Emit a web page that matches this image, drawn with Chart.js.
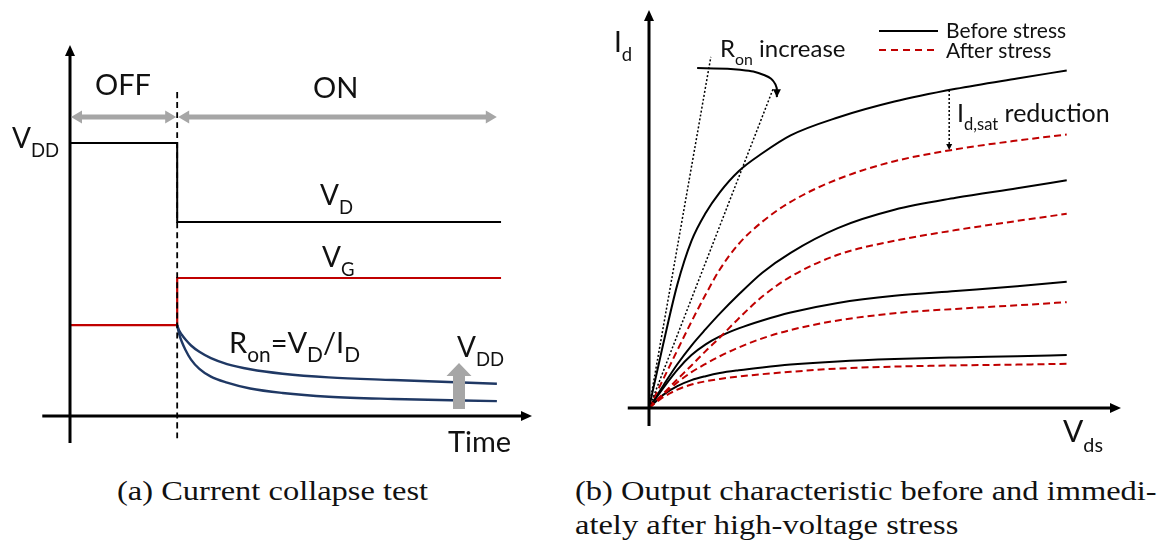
<!DOCTYPE html>
<html>
<head>
<meta charset="utf-8">
<script src="https://cdn.jsdelivr.net/npm/chart.js@4/dist/chart.umd.min.js"></script>
<style>
  html,body{margin:0;padding:0;background:#fff;}
  #wrap{position:relative;width:1167px;height:544px;overflow:hidden;}
  canvas{position:absolute;top:0;}
  .cap{position:absolute;font-family:"Liberation Serif",serif;font-size:28px;line-height:34px;color:#111;
       white-space:nowrap;transform:scaleX(1.16);transform-origin:left top;}
</style>
</head>
<body>
<div id="wrap">
  <canvas id="left" width="560" height="460" style="left:0"></canvas>
  <canvas id="right" width="587" height="460" style="left:580px"></canvas>
  <div class="cap" style="left:117px;top:474px">(a) Current collapse test</div>
  <div class="cap" style="left:575px;top:474px">(b) Output characteristic before and immedi-<br>ately after high-voltage stress</div>
</div>
<script>
// ---- (a) current collapse test ----
const timeSteps = [0, 2.32, 2.32, 9.33];
const vdLevels = [7.36, 7.36, 5.23, 5.23];
const vgLevels = [2.45, 2.45, 3.72, 3.72];
const switchTime = 2.32;
const switchSpan = [-0.6, 8.79];
const ronTimes = [2.32, 2.36, 2.42, 2.5, 2.62, 2.8, 3.05, 3.4, 3.9, 4.6, 5.6, 7.0, 9.24];
const ronUpper = [2.45, 2.31, 2.19, 2.06, 1.90, 1.73, 1.56, 1.40, 1.26, 1.14, 1.04, 0.97, 0.87];
const ronLower = [2.45, 2.22, 2.0, 1.78, 1.52, 1.27, 1.06, 0.9, 0.74, 0.62, 0.52, 0.46, 0.40];
const phaseLevel = 8.06;
const phaseEnds = [0, 2.32, 9.26];
const vddArrowTime = 8.42;
const vddArrowSpan = [0.19, 1.43];

// ---- (b) output characteristic ----
const vdsGrid = [0, 0.3, 0.6, 0.9, 1.2, 1.5, 1.9, 2.4, 3.0, 4.0, 5.2, 6.5, 7.8, 8.85];
const before1 = [0, 1.6, 3.1, 4.2, 4.9, 5.42, 5.95, 6.4, 6.85, 7.3, 7.7, 8.02, 8.28, 8.48];
const before2 = [0, 0.56, 1.1, 1.57, 1.98, 2.37, 2.85, 3.4, 3.9, 4.52, 4.98, 5.28, 5.52, 5.72];
const before3 = [0, 0.5, 0.96, 1.33, 1.6, 1.8, 2.0, 2.2, 2.4, 2.64, 2.82, 2.94, 3.06, 3.17];
const before4 = [0, 0.33, 0.55, 0.7, 0.8, 0.88, 0.95, 1.02, 1.09, 1.17, 1.23, 1.27, 1.3, 1.33];
const after1 = [0, 0.72, 1.45, 2.17, 2.85, 3.48, 4.12, 4.68, 5.18, 5.75, 6.2, 6.5, 6.72, 6.87];
const after2 = [0, 0.36, 0.72, 1.07, 1.43, 1.77, 2.25, 2.8, 3.3, 3.85, 4.2, 4.47, 4.7, 4.88];
const after3 = [0, 0.33, 0.64, 0.9, 1.11, 1.3, 1.52, 1.75, 1.96, 2.2, 2.38, 2.49, 2.58, 2.66];
const after4 = [0, 0.27, 0.46, 0.59, 0.67, 0.73, 0.79, 0.85, 0.91, 0.99, 1.04, 1.07, 1.09, 1.11];
const ronSlopeA = [[0, 0], [1.31, 8.82]];
const ronSlopeB = [[0, 0], [2.63, 8.02]];
const ronArrowX = [1.02, 1.93, 2.45, 2.68, 2.71];
const ronArrowY = [8.54, 8.5, 8.36, 8.13, 7.81];
const idsatX = 6.36;
const idsatSpan = [7.99, 6.48];

const RED = '#c00000', NAVY = '#1f3864', GRAY = '#a6a6a6';

function pts(xs, ys){ return xs.map((x,i)=>({x:x, y:ys[i]})); }

function ds(data, color, extra){
  return Object.assign({data:data, borderColor:color, borderWidth:2, pointRadius:0,
    fill:false, clip:false, cubicInterpolationMode:'monotone'}, extra||{});
}

function head(ctx, x, y, ang, len, half, color){
  ctx.save();
  ctx.translate(x, y); ctx.rotate(ang);
  ctx.fillStyle = color;
  ctx.beginPath();
  ctx.moveTo(0, 0); ctx.lineTo(-len, -half); ctx.lineTo(-len, half); ctx.closePath();
  ctx.fill();
  ctx.restore();
}

function seg(ctx, x1, y1, x2, y2){
  ctx.beginPath(); ctx.moveTo(x1, y1); ctx.lineTo(x2, y2); ctx.stroke();
}

// text with subscripts: parts = [[text, isSub], ...]
function subText(ctx, x, y, parts, size, subScale){
  let cx = x;
  const k = subScale || 0.66;
  ctx.fillStyle = '#111';
  ctx.textBaseline = 'alphabetic'; ctx.textAlign = 'left';
  parts.forEach(p=>{
    const s = p[1] ? size*k : size;
    ctx.font = s + 'px Lato';
    ctx.fillText(p[0], cx, p[1] ? y + size*0.32 : y);
    cx += ctx.measureText(p[0]).width;
  });
}

const base = {
  type:'line',
  options:{
    responsive:false, animation:false, events:[],
    plugins:{legend:{display:false}, tooltip:{enabled:false}},
    scales:{
      x:{type:'linear', min:0, max:10, display:false},
      y:{type:'linear', min:0, max:10, display:false}
    }
  }
};

const leftDecor = {
  id:'leftDecor',
  afterDatasetsDraw(chart){
    const {ctx, scales:{x, y}} = chart;
    ctx.save();
    // axes
    ctx.strokeStyle = '#000'; ctx.lineWidth = 3;
    seg(ctx, x.getPixelForValue(0), y.getPixelForValue(-0.73), x.getPixelForValue(0), y.getPixelForValue(10)+8);
    head(ctx, x.getPixelForValue(0), y.getPixelForValue(10), -Math.PI/2, 11, 5, '#000');
    seg(ctx, x.getPixelForValue(-0.6), y.getPixelForValue(0), x.getPixelForValue(10)-8, y.getPixelForValue(0));
    head(ctx, x.getPixelForValue(10), y.getPixelForValue(0), 0, 11, 5, '#000');

    // OFF / ON phase arrows
    ctx.strokeStyle = GRAY; ctx.lineWidth = 5;
    const py = y.getPixelForValue(phaseLevel);
    for (let i=0;i<phaseEnds.length-1;i++){
      const a = x.getPixelForValue(phaseEnds[i]) + 1, b = x.getPixelForValue(phaseEnds[i+1]) - 1;
      seg(ctx, a+9, py, b-9, py);
      head(ctx, a, py, Math.PI, 11, 6.5, GRAY);
      head(ctx, b, py, 0, 11, 6.5, GRAY);
    }

    // VDD up arrow
    const ax = x.getPixelForValue(vddArrowTime);
    const y0 = y.getPixelForValue(vddArrowSpan[0]), y1 = y.getPixelForValue(vddArrowSpan[1]);
    ctx.fillStyle = GRAY;
    ctx.beginPath();
    ctx.moveTo(ax-6, y0); ctx.lineTo(ax-6, y1+13); ctx.lineTo(ax-12.5, y1+13);
    ctx.lineTo(ax, y1); ctx.lineTo(ax+12.5, y1+13); ctx.lineTo(ax+6, y1+13); ctx.lineTo(ax+6, y0);
    ctx.closePath(); ctx.fill();

    // labels
    subText(ctx, 95, 95, [['OFF',0]], 29);
    subText(ctx, 313, 98, [['ON',0]], 29);
    subText(ctx, 12, 148, [['V',0],['DD',1]], 28);
    subText(ctx, 320, 205, [['V',0],['D',1]], 28);
    subText(ctx, 322, 267, [['V',0],['G',1]], 28);
    subText(ctx, 229, 353, [['R',0],['on',1],['=V',0],['D',1],['/I',0],['D',1]], 29, 0.72);
    subText(ctx, 457, 357, [['V',0],['DD',1]], 28);
    subText(ctx, 448, 452, [['Time',0]], 29);
    ctx.restore();
  }
};

const leftCfg = JSON.parse(JSON.stringify(base));
leftCfg.options.layout = {padding:{left:70, right:28, top:45, bottom:44}};
leftCfg.data = {datasets:[
  ds([{x:switchTime, y:switchSpan[0]}, {x:switchTime, y:switchSpan[1]}], '#000', {borderDash:[6,4], borderWidth:1.8}),
  ds(pts(ronTimes, ronUpper), NAVY, {borderWidth:2.4}),
  ds(pts(ronTimes, ronLower), NAVY, {borderWidth:2.4}),
  ds(pts(timeSteps, vdLevels), '#000', {cubicInterpolationMode:'default', tension:0}),
  ds(pts(timeSteps, vgLevels), RED, {cubicInterpolationMode:'default', tension:0, borderWidth:2.2})
]};
leftCfg.plugins = [leftDecor];
new Chart(document.getElementById('left'), leftCfg);

const rightDecor = {
  id:'rightDecor',
  afterDatasetsDraw(chart){
    const {ctx, scales:{x, y}} = chart;
    const X = 580;
    ctx.save();
    ctx.strokeStyle = '#000'; ctx.lineWidth = 3;
    seg(ctx, x.getPixelForValue(0), y.getPixelForValue(-0.45), x.getPixelForValue(0), y.getPixelForValue(10)+8);
    head(ctx, x.getPixelForValue(0), y.getPixelForValue(10), -Math.PI/2, 11, 5, '#000');
    seg(ctx, x.getPixelForValue(-0.45), y.getPixelForValue(0), x.getPixelForValue(10)-8, y.getPixelForValue(0));
    head(ctx, x.getPixelForValue(10), y.getPixelForValue(0), 0, 11, 5, '#000');

    // curved arrow head and Id,sat arrow head
    const n = ronArrowX.length-1;
    head(ctx, x.getPixelForValue(ronArrowX[n]), y.getPixelForValue(ronArrowY[n]), Math.PI/2, 8, 4, '#000');
    head(ctx, x.getPixelForValue(idsatX), y.getPixelForValue(idsatSpan[1]), Math.PI/2, 6, 3, '#000');

    // legend
    ctx.lineWidth = 2;
    ctx.strokeStyle = '#000';
    seg(ctx, 879-X, 31, 938-X, 31);
    ctx.strokeStyle = RED; ctx.setLineDash([7,5]);
    seg(ctx, 879-X, 50, 938-X, 50);
    ctx.setLineDash([]);
    subText(ctx, 946-X, 38, [['Before stress',0]], 21);
    subText(ctx, 946-X, 58, [['After stress',0]], 21);

    subText(ctx, 614-X, 52, [['I',0],['d',1]], 28);
    subText(ctx, 720-X, 57, [['R',0],['on',1],[' increase',0]], 24);
    subText(ctx, 957-X, 122, [['I',0],['d,sat',1],[' reduction',0]], 25);
    subText(ctx, 1063-X, 442, [['V',0],['ds',1]], 30);
    ctx.restore();
  }
};

const dashed = {borderDash:[7,4]};
const dotted = {borderDash:[2,2], borderWidth:1.5, cubicInterpolationMode:'default', tension:0};
const rightCfg = JSON.parse(JSON.stringify(base));
rightCfg.options.layout = {padding:{left:69, right:46, top:10, bottom:52}};
rightCfg.data = {datasets:[
  ds(ronSlopeA.map(p=>({x:p[0], y:p[1]})), '#000', dotted),
  ds(ronSlopeB.map(p=>({x:p[0], y:p[1]})), '#000', dotted),
  ds([{x:idsatX, y:idsatSpan[0]}, {x:idsatX, y:idsatSpan[1]+0.12}], '#000', dotted),
  ds(pts(ronArrowX, ronArrowY), '#000', {borderWidth:2, cubicInterpolationMode:'default', tension:0.45}),
  ds(pts(vdsGrid, after1), RED, dashed),
  ds(pts(vdsGrid, after2), RED, dashed),
  ds(pts(vdsGrid, after3), RED, dashed),
  ds(pts(vdsGrid, after4), RED, dashed),
  ds(pts(vdsGrid, before1), '#000'),
  ds(pts(vdsGrid, before2), '#000'),
  ds(pts(vdsGrid, before3), '#000'),
  ds(pts(vdsGrid, before4), '#000')
]};
rightCfg.plugins = [rightDecor];
new Chart(document.getElementById('right'), rightCfg);
</script>
</body>
</html>
